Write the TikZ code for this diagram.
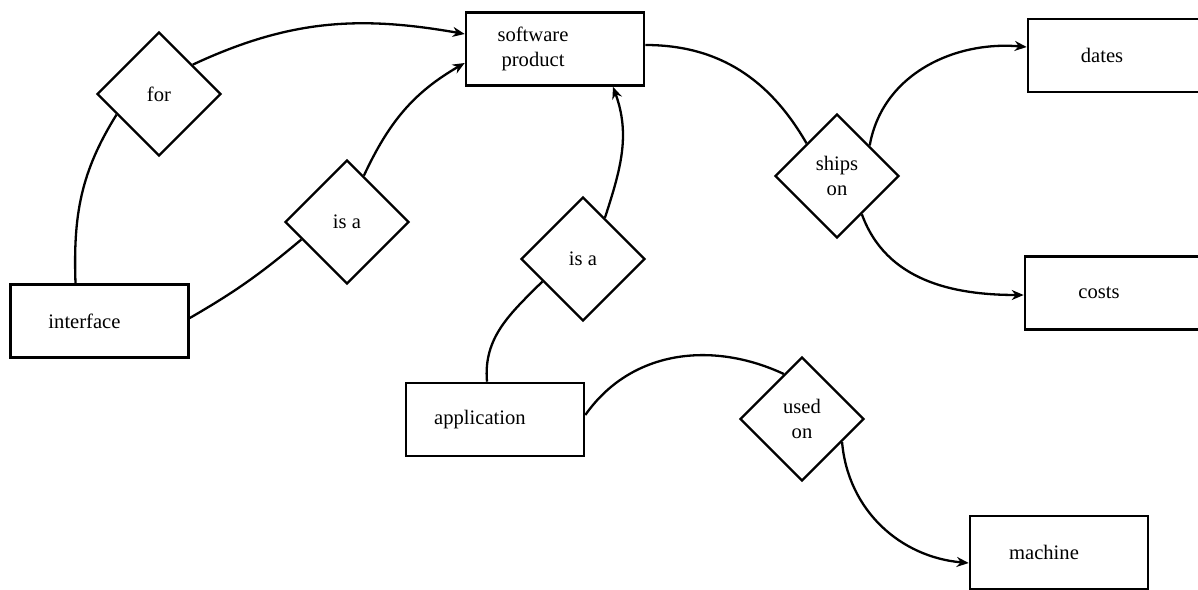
\documentclass[tikz,border=0pt]{standalone}
\usepackage{fontspec}
\setmainfont{Liberation Serif}
\usetikzlibrary{shapes.geometric,arrows.meta}

\begin{document}
\begin{tikzpicture}[y=-0.5pt,x=0.5pt,
	font=\fontsize{10.3}{12.5}\selectfont,
	entity/.style={draw, line width=1.3pt, minimum width=89pt, minimum height=36.5pt, inner sep=0pt, execute at end node={\hspace*{15pt}}},
	relation/.style={draw, diamond, line width=1.2pt, minimum size=62pt, inner sep=1pt, align=center},
	link/.style={line width=1.15pt},
	arrow/.style={link, -{Stealth[length=6pt,width=5pt]}}]
	\useasboundingbox (0,0) rectangle (1198,589);

	% entities
	\node[entity] (sw) at (555,49) {\begin{tabular}{@{}c@{}}software\\product\end{tabular}\hspace*{7pt}};
	\node[entity] (dates) at (1117,55.5) {dates};
	\node[entity] (costs) at (1114,293) {costs};
	\node[entity] (iface) at (99.5,321) {interface};
	\node[entity] (app) at (495,419.5) {application};
	\node[entity] (mach) at (1059,552.5) {machine};

	% relations
	\node[relation] (for) at (159,94) {for};
	\node[relation] (isa1) at (347,222) {is a};
	\node[relation] (isa2) at (583,259) {is a};
	\node[relation] (ships) at (837,176) {ships\\on};
	\node[relation] (used) at (802,419) {used\\on};

	\draw[link] ([xshift=-12pt]iface.north) to[out=92,in=238] (for.206);
	\draw[arrow] (for.41) to[out=25,in=170] ([yshift=7.5pt]sw.west);
	\draw[link] ([yshift=1.5pt]iface.east) to[out=30,in=220] (isa1.201);
	\draw[arrow] (isa1.70) to[out=65,in=210] ([yshift=-7pt]sw.west);
	\draw[link] ([xshift=-4pt]app.north) to[out=95,in=225] (isa2.209);
	\draw[arrow] (isa2.62) to[out=72,in=-70] ([xshift=29pt]sw.south);
	\draw[link] ([yshift=2pt]sw.east) to[out=0,in=120] (ships.133);
	\draw[arrow] (ships.43) to[out=80,in=175] ([yshift=4.25pt]dates.west);
	\draw[arrow] (ships.-57) to[out=-70,in=180] ([yshift=-1pt]costs.west);
	\draw[link] ([yshift=2.25pt]app.east) to[out=55,in=155] (used.112);
	\draw[arrow] (used.-30) to[out=-85,in=175] ([yshift=-5.25pt]mach.west);
\end{tikzpicture}
\end{document}
